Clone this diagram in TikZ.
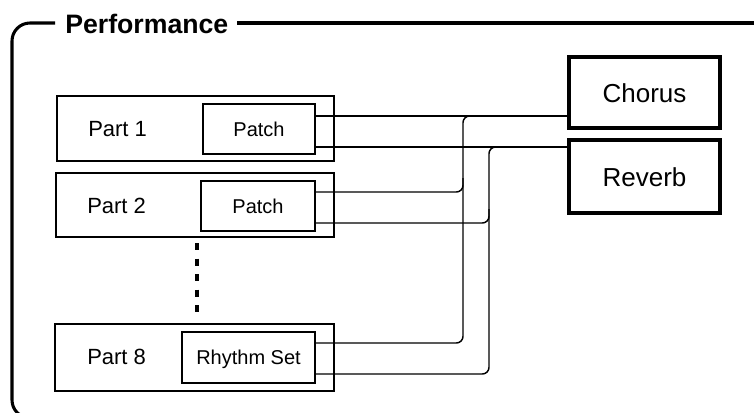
\documentclass[tikz,border=0pt]{standalone}
\usepackage{fontspec}
\setmainfont{Liberation Sans}
\usetikzlibrary{calc,fit}
\begin{document}
\begin{tikzpicture}[x=0.75pt,y=-0.75pt,
  partbox/.style={draw, line width=1.1pt, inner sep=0pt, outer sep=0pt},
  fxbox/.style={draw, line width=2.5pt, inner sep=0pt, outer sep=0pt},
  wire/.style={draw, line width=1.1pt},
  frame/.style={draw, line width=2.3pt},
  dotline/.style={draw, line width=2.3pt, dash pattern=on 5.25pt off 6.4pt},
  partlbl/.style={anchor=base west, inner sep=0pt, font=\fontsize{16.5}{19}\selectfont},
  patchlbl/.style={anchor=base, inner sep=0pt, font=\fontsize{15}{18}\selectfont},
  fxlbl/.style={anchor=base, inner sep=0pt, font=\fontsize{19.5}{22}\selectfont},
  titlelbl/.style={anchor=base west, inner sep=0pt, font=\bfseries\fontsize{20}{23}\selectfont}]
\useasboundingbox (0,0) rectangle (754,412);
\clip (0,0) rectangle (754,412);

% frame
\draw[frame, rounded corners=13.5pt] (55,23) -- (12,23) -- (12,418) -- (800,418);
\draw[frame] (237,23) -- (800,23);
\node[titlelbl] (title) at (65,33) {Performance};

% parts
\node[partbox, fit={(57,96) (334,161)}] (part1) {};
\node[partbox, fit={(203,104) (315,154)}] (patch1) {};
\node[partbox, fit={(56,173) (334,237)}] (part2) {};
\node[partbox, fit={(201,181) (315,231)}] (patch2) {};
\node[partbox, fit={(55,324) (334,391)}] (part8) {};
\node[partbox, fit={(182,332) (315,383)}] (rhythm) {};

\node[partlbl] (l1) at (88,136) {Part 1};
\node[partlbl] (l2) at (87,213) {Part 2};
\node[partlbl] (l8) at (87,364) {Part 8};
\node[patchlbl] (t1) at ($(patch1.center)+(0,7)$) {Patch};
\node[patchlbl] (t2) at ($(patch2.center)+(0,7)$) {Patch};
\node[patchlbl] (t8) at ($(rhythm.center)+(0,7)$) {Rhythm Set};

% effects
\node[fxbox, fit={(569,57) (720,128)}] (chorus) {};
\node[fxbox, fit={(569,140) (720,213)}] (reverb) {};
\node[fxlbl] (tc) at ($(chorus.center)+(0,9.5)$) {Chorus};
\node[fxlbl] (tr) at ($(reverb.center)+(0,9.5)$) {Reverb};

% dotted
\coordinate (d1) at (197,243);
\coordinate (d2) at (197,313);
\draw[dotline] (d1) -- (d2);

% wire endpoints
\coordinate (p1a) at ($(patch1.north east)+(0,12)$);
\coordinate (p1b) at ($(patch1.south east)+(0,-7)$);
\coordinate (p2a) at ($(patch2.north east)+(0,11)$);
\coordinate (p2b) at ($(patch2.south east)+(0,-8)$);
\coordinate (r8a) at ($(rhythm.north east)+(0,11)$);
\coordinate (r8b) at ($(rhythm.south east)+(0,-9)$);
\coordinate (bus1) at (463,0);
\coordinate (bus2) at (489,0);

\draw[wire] (p1a) -- (p1a -| chorus.west);
\draw[wire] (p1b) -- (p1b -| reverb.west);
\draw[wire, rounded corners=5pt] (r8a) -| (bus1 |- p1a) -- (p1a -| chorus.west);
\draw[wire, rounded corners=5pt] (r8b) -| (bus2 |- p1b) -- (p1b -| reverb.west);
\draw[wire, rounded corners=5pt] (p2a) -| ($(bus1 |- p2a)+(0,-14)$);
\draw[wire, rounded corners=5pt] (p2b) -| ($(bus2 |- p2b)+(0,-14)$);
\end{tikzpicture}
\end{document}
